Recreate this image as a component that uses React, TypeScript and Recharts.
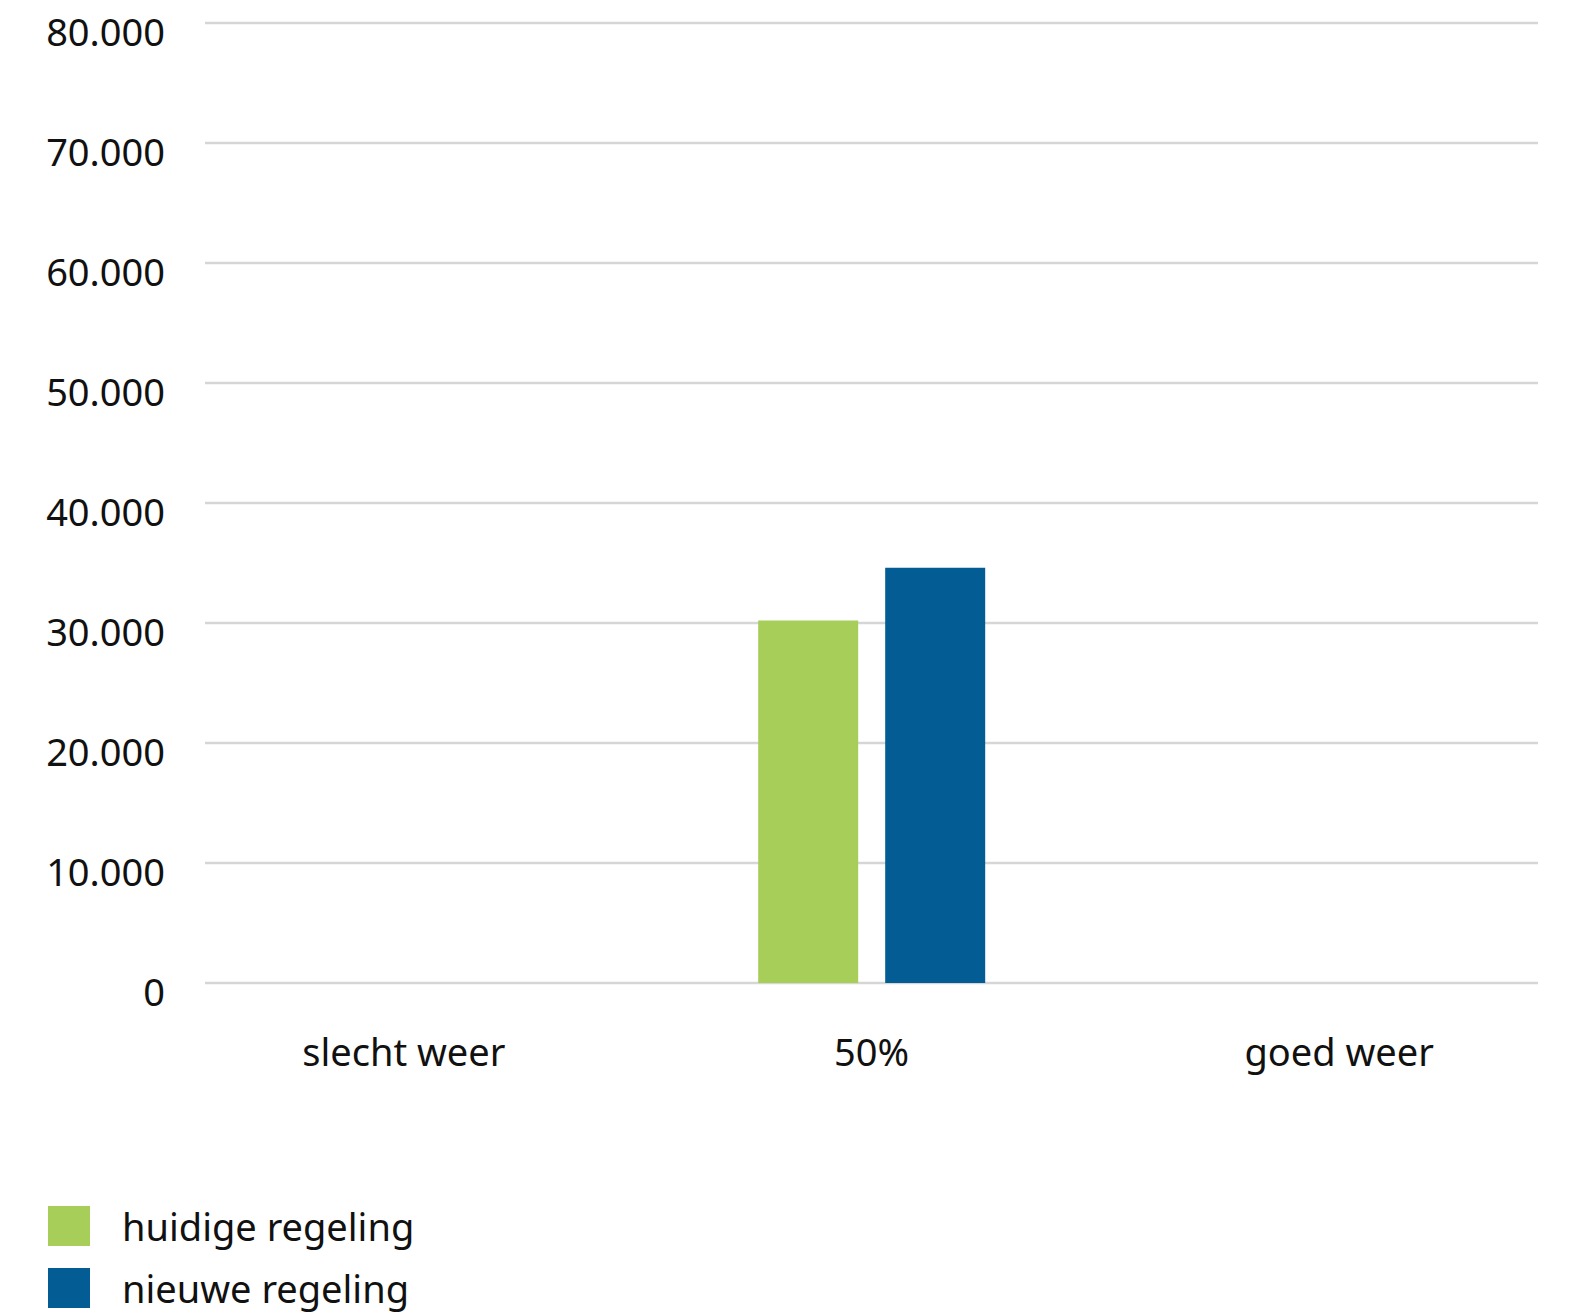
import React from 'react';
import { BarChart, Bar, XAxis, YAxis, CartesianGrid, Legend } from 'recharts';

const categories = ['slecht weer', '50%', 'goed weer'];
const huidigeRegeling = [0, 30200, 0];
const nieuweRegeling = [0, 34600, 0];
const yTicks = [0, 10000, 20000, 30000, 40000, 50000, 60000, 70000, 80000];

const seriesNames = ['huidige regeling', 'nieuwe regeling'];
const seriesColors = ['#A6CE59', '#035C94'];

const FONT = '"Noto Sans", "Open Sans", sans-serif';

const data = categories.map((c, i) => ({
    category: c,
    huidige: huidigeRegeling[i],
    nieuwe: nieuweRegeling[i],
}));

const fmt = (v: number) => String(v).replace(/\B(?=(\d{3})+(?!\d))/g, '.');

const YTick = ({ x, y, payload }: any) => (
    <text x={x} y={y + 23} textAnchor="end" fontSize={38} fontFamily={FONT} fill="#111">
        {fmt(payload.value)}
    </text>
);

const XTick = ({ x, y, payload }: any) => (
    <text x={x} y={y + 53} textAnchor="middle" fontSize={38} fontFamily={FONT} fill="#111">
        {payload.value}
    </text>
);

const LegendContent = () => (
    <div style={{ height: 120, width: 500, position: 'relative', fontFamily: FONT }}>
        {seriesNames.map((name, i) => (
            <div
                key={name}
                style={{
                    position: 'absolute',
                    left: 0,
                    top: 10 + i * 62,
                    height: 40,
                    display: 'flex',
                    alignItems: 'center',
                }}
            >
                <div style={{ width: 42, height: 40, background: seriesColors[i] }} />
                <span style={{ marginLeft: 32, fontSize: 38, color: '#111', lineHeight: '40px' }}>{name}</span>
            </div>
        ))}
    </div>
);

export default function App() {
    return (
        <div style={{ marginTop: -8, marginLeft: -8, width: 1573, height: 1316 }}>
            <BarChart
                width={1573}
                height={1316}
                data={data}
                margin={{ top: 23, right: 35, left: 45, bottom: 0 }}
                barCategoryGap="24.5%"
                barGap={27}
            >
                <CartesianGrid xAxisId="bars" vertical={false} stroke="#d6d6d6" strokeWidth={2.5} />
                <XAxis xAxisId="bars" dataKey="category" hide />
                <XAxis
                    xAxisId="labels"
                    dataKey="category"
                    height={213}
                    padding={{ left: -35, right: -35 }}
                    axisLine={false}
                    tickLine={false}
                    tickSize={0}
                    tickMargin={0}
                    tick={<XTick />}
                    interval={0}
                />
                <YAxis
                    width={160}
                    domain={[0, 80000]}
                    ticks={yTicks}
                    axisLine={false}
                    tickLine={false}
                    tickSize={0}
                    tickMargin={40}
                    tick={<YTick />}
                    interval={0}
                />
                <Legend verticalAlign="bottom" align="left" wrapperStyle={{ left: 48 }} content={<LegendContent />} />
                <Bar xAxisId="bars" dataKey="huidige" name={seriesNames[0]} fill={seriesColors[0]} isAnimationActive={false} />
                <Bar xAxisId="bars" dataKey="nieuwe" name={seriesNames[1]} fill={seriesColors[1]} isAnimationActive={false} />
            </BarChart>
        </div>
    );
}
